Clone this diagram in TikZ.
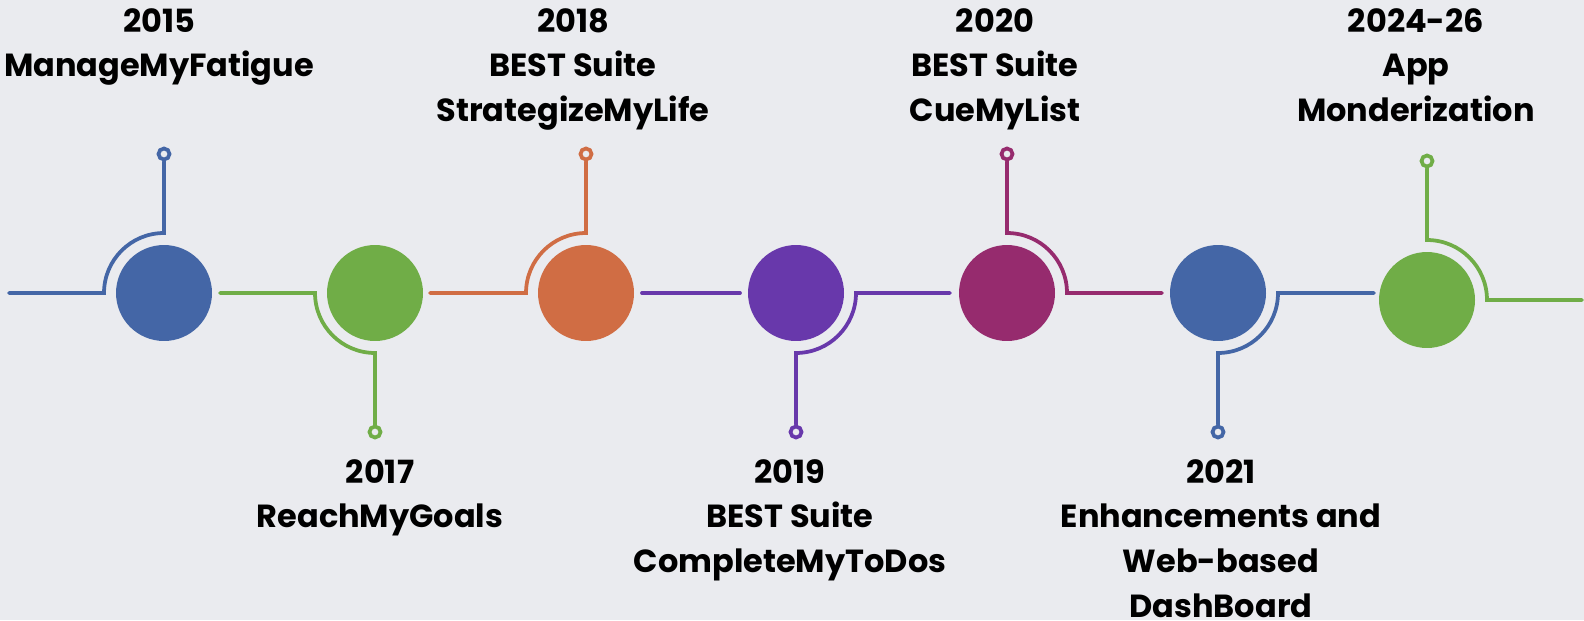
\documentclass[tikz,border=0pt]{standalone}
\usepackage{fontspec}
\setmainfont{Poppins}
\usepackage{tikz}

\definecolor{tlbg}{HTML}{EAEBEF}
\definecolor{tlblue}{HTML}{4466A6}
\definecolor{tlgreen}{HTML}{70AD47}
\definecolor{tlorange}{HTML}{D06D44}
\definecolor{tlpurple}{HTML}{6838AB}
\definecolor{tlmagenta}{HTML}{962B6E}

\begin{document}
\begin{tikzpicture}[x = 0.02cm, y = 0.02cm,
        ball/.style = {circle, inner sep = 0pt, minimum size = 1.92cm},
        dot/.style = {circle, draw, line width = 0.075cm, fill = tlbg, inner sep = 0pt, minimum size = 0.22cm},
        link/.style = {line width = 0.075cm, line cap = round},
        txt/.style = {align = center, inner sep = 0pt, anchor = north, font = \bfseries\fontsize{18.2pt}{25.4pt}\selectfont}]
        \fill [tlbg] (0,0) rectangle (1584,620);
        \useasboundingbox (0,0) rectangle (1584,620);

        % milestones
        \node [ball, fill = tlblue] (c1) at (164,327) {};
        \node [ball, fill = tlgreen] (c2) at (375,327) {};
        \node [ball, fill = tlorange] (c3) at (586,327) {};
        \node [ball, fill = tlpurple] (c4) at (796,327) {};
        \node [ball, fill = tlmagenta] (c5) at (1007,327) {};
        \node [ball, fill = tlblue] (c6) at (1218,327) {};
        \node [ball, fill = tlgreen] (c7) at (1427,320) {};

        % pins
        \node [dot, draw = tlblue] (d1) at (164,466) {};
        \node [dot, draw = tlgreen] (d2) at (375,188) {};
        \node [dot, draw = tlorange] (d3) at (586,466) {};
        \node [dot, draw = tlpurple] (d4) at (796,188) {};
        \node [dot, draw = tlmagenta] (d5) at (1007,466) {};
        \node [dot, draw = tlblue] (d6) at (1218,188) {};
        \node [dot, draw = tlgreen] (d7) at (1427,459) {};

        \coordinate (s1) at (9,327);
        \coordinate (s2) at (220,327);
        \coordinate (s3) at (430,327);
        \coordinate (s4) at (642,327);
        \coordinate (e4) at (740,327);
        \coordinate (e5) at (950,327);
        \coordinate (e6) at (1162,327);
        \coordinate (e7) at (1374,327);
        \coordinate (e8) at (1582,320);

        \draw [link, tlblue] (s1) -- ([xshift = -1.2cm]c1.center) arc [start angle = 180, end angle = 90, radius = 1.2cm] -- (d1.south);
        \draw [link, tlgreen] (s2) -- ([xshift = -1.2cm]c2.center) arc [start angle = 180, end angle = 270, radius = 1.2cm] -- (d2.north);
        \draw [link, tlorange] (s3) -- ([xshift = -1.2cm]c3.center) arc [start angle = 180, end angle = 90, radius = 1.2cm] -- (d3.south);
        \draw [link, tlpurple] (s4) -- (e4);
        \draw [link, tlpurple] (d4.north) -- ([yshift = -1.2cm]c4.center) arc [start angle = 270, end angle = 360, radius = 1.2cm] -- (e5);
        \draw [link, tlmagenta] (d5.south) -- ([yshift = 1.2cm]c5.center) arc [start angle = 90, end angle = 0, radius = 1.2cm] -- (e6);
        \draw [link, tlblue] (d6.north) -- ([yshift = -1.2cm]c6.center) arc [start angle = 270, end angle = 360, radius = 1.2cm] -- (e7);
        \draw [link, tlgreen] (d7.south) -- ([yshift = 1.2cm]c7.center) arc [start angle = 90, end angle = 0, radius = 1.2cm] -- (e8);

        % labels
        \node [txt] (t1) at (159,612) {2015\\ManageMyFatigue};
        \node [txt] (t2) at (380,161) {2017\\ReachMyGoals};
        \node [txt] (t3) at (573,612) {2018\\BEST Suite\\StrategizeMyLife};
        \node [txt] (t4) at (790,161) {2019\\BEST Suite\\CompleteMyToDos};
        \node [txt] (t5) at (995,612) {2020\\BEST Suite\\CueMyList};
        \node [txt] (t6) at (1221,161) {2021\\Enhancements and\\Web-based\\DashBoard};
        \node [txt] (t7) at (1416,612) {2024-26\\App\\Monderization};
\end{tikzpicture}
\end{document}
